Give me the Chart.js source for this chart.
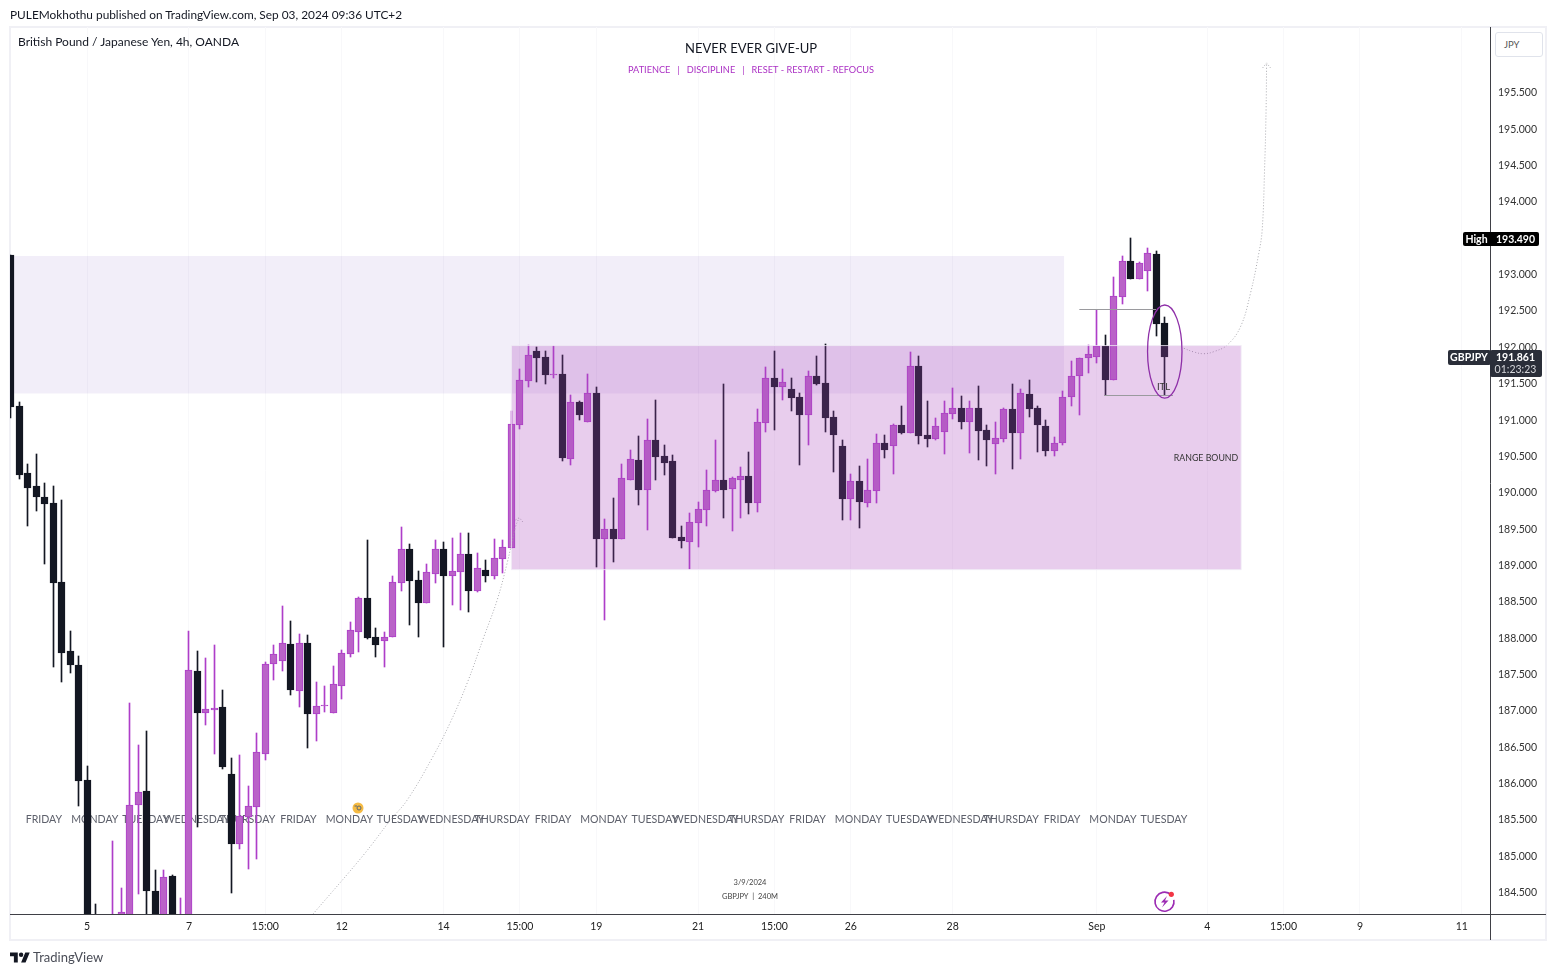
<!DOCTYPE html>
<html>
<head>
<meta charset="utf-8">
<title>GBPJPY 4h</title>
<script src="https://cdn.jsdelivr.net/npm/chart.js@4"></script>
<style>
  html, body { margin: 0; padding: 0; background: #fff; }
  body { width: 1556px; height: 975px; position: relative; overflow: hidden; font-family: Lato, sans-serif; color: #131722; }
  canvas { position: absolute; left: 0; top: 0; }
  .frame { position: absolute; left: 9px; top: 26px; width: 1534px; height: 911px; border: 2px solid #f0f0f5; }
  .txt { position: absolute; white-space: nowrap; }
  .jpy { position: absolute; left: 1495px; top: 32px; width: 46px; height: 23px; border: 1px solid #e0e3eb; border-radius: 3px; font-size: 9.5px; line-height: 23px; color: #555; text-indent: 8px; background: #fff; }
</style>
</head>
<body>
<div class="frame"></div>
<canvas id="chart" width="1556" height="975"></canvas>
<div class="txt" style="left:10px;top:7px;font-size:11.85px">PULEMokhothu published on TradingView.com, Sep 03, 2024 09:36 UTC+2</div>
<div class="txt" style="left:18px;top:34px;font-size:12px">British Pound / Japanese Yen, 4h, OANDA</div>
<div class="jpy">JPY</div>
<svg style="position:absolute;left:10px;top:950px" width="20" height="16" viewBox="0 0 36 28"><path fill="#131722" d="M14 22H7V11H0V4h14v18zM28 22h-8l7.5-18h8L28 22z"/><circle fill="#131722" cx="20" cy="8" r="4"/></svg>
<div class="txt" style="left:33px;top:949px;font-size:13px;line-height:17px;color:#4a4d57">TradingView</div>
<script>
// candles, oldest first (values below the chart's bottom edge are guesses)
const opens = [193.257,191.180,190.259,190.080,189.929,189.847,188.760,187.811,187.618,186.036,183.970,183.800,183.750,183.950,184.100,185.696,185.885,184.509,184.000,184.716,184.000,184.100,187.535,186.962,187.003,187.040,186.119,185.160,185.531,185.669,
  186.398,187.628,187.677,187.907,187.264,187.916,186.948,187.061,186.962,187.333,187.773,188.076,188.540,188.003,187.952,188.007,188.750,189.214,188.787,188.475,188.874,189.214,188.846,188.901,189.145,188.640,188.925,188.846,189.080,189.231,
  190.923,191.528,191.937,191.854,191.614,191.621,190.456,191.235,190.965,191.359,189.351,189.489,189.351,190.163,190.438,190.025,190.713,190.493,190.424,189.379,189.314,189.575,189.754,190.015,190.163,190.043,190.167,190.218,189.850,190.951,
  191.566,191.446,191.414,191.304,191.061,191.593,191.497,191.029,190.630,189.905,190.149,189.850,190.015,190.672,190.634,190.919,190.813,191.731,190.782,190.731,190.827,191.075,191.153,190.965,191.153,190.850,190.662,190.731,191.139,190.813,
  191.346,191.153,190.905,190.566,190.676,191.300,191.589,191.837,191.859,192.006,191.542,192.684,193.175,192.932,193.042,193.271,192.322];
const highs = [193.257,191.235,190.383,190.520,190.121,190.080,189.888,188.086,187.742,186.229,184.331,184.000,185.197,184.550,187.096,186.518,186.710,184.798,184.798,184.730,184.413,188.086,187.811,187.714,187.893,187.274,186.339,186.380,185.954,186.683,
  187.655,187.893,188.429,188.223,188.044,188.031,187.384,187.329,187.604,187.824,188.209,188.553,189.337,188.127,188.072,188.842,189.516,189.282,188.911,189.007,189.337,189.310,189.365,189.434,189.434,189.159,189.062,189.351,189.337,191.112,
  191.689,192.020,191.992,191.937,192.006,191.882,191.332,191.249,191.621,191.442,189.626,189.915,190.383,190.575,190.768,191.002,191.263,190.644,190.506,189.530,189.709,189.860,190.300,190.713,191.483,190.204,190.341,190.548,191.139,191.717,
  191.937,191.689,191.566,191.359,191.662,191.868,192.033,191.112,190.713,190.245,190.355,190.452,190.795,190.782,190.933,191.180,191.923,191.868,191.249,191.015,191.249,191.428,191.318,191.249,191.456,190.919,190.960,191.153,191.483,191.414,
  191.538,191.180,190.988,190.754,191.387,191.799,191.841,192.020,192.501,192.157,192.955,193.244,193.490,193.161,193.354,193.313,192.405];
const lows = [191.015,190.180,189.534,189.741,189.012,187.595,187.389,187.512,185.683,183.800,183.700,183.600,183.600,183.800,183.900,184.472,184.040,183.900,183.850,183.900,183.900,184.000,185.394,186.793,186.398,186.192,184.486,185.091,184.816,184.954,
  186.311,187.412,187.535,187.205,187.040,186.476,186.573,186.971,186.962,187.150,187.732,187.797,187.976,187.728,187.590,188.007,188.636,188.168,188.003,188.475,188.746,187.866,188.443,188.374,188.347,188.622,188.760,188.801,188.883,189.231,
  190.864,191.442,191.511,191.483,191.566,190.424,190.369,190.988,190.965,188.966,188.237,189.035,189.351,190.163,189.819,189.475,190.163,190.231,189.365,189.227,188.938,189.241,189.530,189.998,189.640,189.461,189.640,189.695,189.722,190.823,
  190.850,191.263,191.112,190.369,190.644,191.469,190.823,190.273,189.612,189.612,189.502,189.791,189.846,190.465,190.245,190.795,190.813,190.658,190.617,190.713,190.520,191.002,190.864,190.534,190.438,190.355,190.245,190.685,190.314,190.452,
  191.029,190.548,190.493,190.493,190.644,191.180,191.057,191.634,191.772,191.332,191.542,192.583,192.927,192.932,192.762,192.143,191.332];
const closes = [191.167,190.236,190.057,189.933,189.837,188.750,187.788,187.623,186.027,183.973,183.800,183.750,183.950,184.220,185.692,185.867,184.513,184.000,184.702,184.000,184.150,187.549,186.962,187.008,187.027,186.219,185.160,185.541,185.678,186.417,
  187.628,187.765,187.916,187.274,187.916,186.948,187.050,187.068,187.352,187.779,188.095,188.535,187.989,187.893,187.999,188.755,189.209,188.773,188.471,188.893,189.209,188.842,188.907,189.141,188.636,188.948,188.842,189.086,189.237,190.929,
  191.534,191.878,191.841,191.607,191.621,190.465,191.231,191.057,191.355,189.351,189.484,189.351,190.186,190.447,190.025,190.709,190.479,190.396,189.365,189.324,189.581,189.760,190.021,190.159,190.025,190.186,190.214,189.846,190.956,191.561,
  191.442,191.507,191.291,191.057,191.589,191.483,191.015,190.782,189.901,190.145,189.860,190.021,190.667,190.575,190.915,190.809,191.727,190.768,190.727,190.901,191.080,191.149,190.960,191.149,190.837,190.713,190.736,191.135,190.809,191.355,
  191.139,190.919,190.561,190.667,191.300,191.589,191.837,191.892,192.002,191.542,192.689,193.171,192.927,193.143,193.281,192.308,191.861];

// time axis: positions are bar numbers
const timeTicks = [9,21,30,39,51,60,69,81,90,99,111,128,141,150,159,171];
const timeLabels = ["5","7","15:00","12","14","15:00","19","21","15:00","26","28","Sep","4","15:00","9","11"];
const priceTicks = [184.5,185,185.5,186,186.5,187,187.5,188,188.5,189,189.5,190,190.5,191,191.5,192,192.5,193,193.5,194,194.5,195,195.5];

const dayPositions = [3.9,9.9,15.9,21.9,27.9,33.9,39.9,45.9,51.9,57.9,63.9,69.9,75.9,81.9,87.9,93.9,99.9,105.9,111.9,117.9,123.9,129.9,135.9];
const dayLabels = ["FRIDAY","MONDAY","TUESDAY","WEDNESDAY","THURSDAY","FRIDAY","MONDAY","TUESDAY","WEDNESDAY","THURSDAY","FRIDAY","MONDAY","TUESDAY","WEDNESDAY","THURSDAY","FRIDAY","MONDAY","TUESDAY","WEDNESDAY","THURSDAY","FRIDAY","MONDAY","TUESDAY"];
const dayPrice = 185.487;

// drawn projections
const pathUpX = [35.6,41.57,44.75,46.72,49.66,51.82,53.79,55.75,57.32,58.5,59.48,59.87];
const pathUpY = [184.19,185.005,185.486,185.761,186.339,186.834,187.371,188.004,188.512,189.021,189.517,189.634];
const arrowUpX = [59.48,59.94,60.46];
const arrowUpY = [189.613,189.645,189.568];
const pathNextX = [138.24,139.42,140.6,141.78,143.36,144.93,146.1,147.08,147.48,147.76,147.94,148];
const pathNextY = [191.975,191.924,191.9,191.928,192.02,192.272,192.731,193.281,193.602,194.427,195.252,195.885];
const arrowNextX = [147.53,148,148.47];
const arrowNextY = [195.83,195.9,195.83];

// zones and levels: [from bar, to bar, price, price]
const supplyZone = [0,124.13,193.244,191.353];
const rangeZone = [59,145,192.012,188.93];
const levelHigh = [125.93,134.97,192.51];
const levelLow = [128.84,136.97,191.33];
const circleMark = [136,2.03,192.57,191.29];

const highPrice = 193.49;
const lastPrice = 191.861;

const fontName = "Lato, sans-serif";
const bull = "#ba63c8", bullEdge = "#ae3ec9", bear = "#131722";

const wicks = highs.map((h, i) => ({ x: i, y: [lows[i], h] }));
const bodies = opens.map((o, i) => ({ x: i, y: [o, closes[i]] }));
const barColors = (fill) => opens.map((o, i) => closes[i] >= o ? fill : bear);
const zip = (xs, ys) => xs.map((x, i) => ({ x, y: ys[i] }));

const dotted = (xs, ys, tension) => ({
  type: "line", data: zip(xs, ys), order: 1, tension,
  borderColor: "#a9a9ae", borderWidth: 1, borderDash: [1, 2], pointRadius: 0, fill: false
});

// the candles sit on whole pixels in the original
const snapBars = {
  id: "snapBars",
  afterDatasetsUpdate(chart) {
    chart.data.datasets.forEach((d, n) => {
      const meta = chart.getDatasetMeta(n);
      if (meta.type !== "bar") return;
      meta.data.forEach((el) => {
        el.x = Math.floor(el.x) + 0.5;
        el.y = Math.round(el.y);
        el.base = Math.round(el.base);
        if (el.y === el.base) el.base = el.y + 1;
      });
    });
  }
};

function label(ctx, text, x, y, size, color, align, weight) {
  ctx.font = (weight || "") + " " + size + "px " + fontName;
  ctx.fillStyle = color;
  ctx.textAlign = align || "center";
  ctx.textBaseline = "middle";
  ctx.fillText(text, x, y);
}

function priceBox(ctx, left, right, top, bottom, color) {
  ctx.fillStyle = color;
  ctx.beginPath();
  ctx.roundRect(left, top, right - left, bottom - top, 2);
  ctx.fill();
}

const drawings = {
  id: "drawings",
  beforeDatasetsDraw(chart) {
    const { ctx, chartArea: a, scales: { x, y } } = chart;
    ctx.save();
    ctx.beginPath();
    ctx.rect(a.left, a.top, a.width, a.height);
    ctx.clip();
    ctx.fillStyle = "rgba(126,87,194,0.1)";
    ctx.fillRect(x.getPixelForValue(supplyZone[0]), y.getPixelForValue(supplyZone[2]),
      x.getPixelForValue(supplyZone[1]) - x.getPixelForValue(supplyZone[0]),
      y.getPixelForValue(supplyZone[3]) - y.getPixelForValue(supplyZone[2]));
    dayLabels.forEach((d, i) => label(ctx, d, x.getPixelForValue(dayPositions[i]), y.getPixelForValue(dayPrice), 10.6, "#5d606b"));
    ctx.restore();
  },
  afterDatasetsDraw(chart) {
    const { ctx, chartArea: a, scales: { x, y } } = chart;
    ctx.save();
    // range box goes over the candles, that is what tints them
    const rx = x.getPixelForValue(rangeZone[0]), ry = y.getPixelForValue(rangeZone[2]);
    const rw = x.getPixelForValue(rangeZone[1]) - rx, rh = y.getPixelForValue(rangeZone[3]) - ry;
    ctx.fillStyle = "rgba(171,71,188,0.27)";
    ctx.fillRect(rx, ry, rw, rh);
    ctx.strokeStyle = "rgba(240,236,246,0.8)";
    ctx.lineWidth = 1;
    ctx.strokeRect(rx, ry, rw, rh);

    ctx.strokeStyle = "#9a9a9e";
    [levelHigh, levelLow].forEach((l) => {
      const py = Math.round(y.getPixelForValue(l[2])) + 0.5;
      ctx.beginPath();
      ctx.moveTo(x.getPixelForValue(l[0]), py);
      ctx.lineTo(x.getPixelForValue(l[1]), py);
      ctx.stroke();
    });

    const cy1 = y.getPixelForValue(circleMark[2]), cy2 = y.getPixelForValue(circleMark[3]);
    ctx.strokeStyle = "#8e2fa8";
    ctx.lineWidth = 1.3;
    ctx.beginPath();
    ctx.ellipse(x.getPixelForValue(circleMark[0]), (cy1 + cy2) / 2,
      x.getPixelForValue(circleMark[1]) - x.getPixelForValue(0), (cy2 - cy1) / 2, 0, 0, Math.PI * 2);
    ctx.stroke();

    label(ctx, "NEVER EVER GIVE-UP", x.getPixelForValue(87.24), y.getPixelForValue(196.095), 13, "#131722");
    label(ctx, "PATIENCE   |   DISCIPLINE   |   RESET - RESTART - REFOCUS", x.getPixelForValue(87.24), y.getPixelForValue(195.802), 9.2, "#ab30c4");
    label(ctx, "RANGE BOUND", x.getPixelForValue(140.86), y.getPixelForValue(190.459), 8.8, "#333");
    label(ctx, "ITL", x.getPixelForValue(135.85), y.getPixelForValue(191.446), 9.5, "#333");
    label(ctx, "3/9/2024", x.getPixelForValue(87.12), y.getPixelForValue(184.62), 7.5, "#444");
    label(ctx, "GBPJPY  |  240M", x.getPixelForValue(87.12), y.getPixelForValue(184.428), 7.5, "#444");

    // small icons
    ctx.fillStyle = "#f6bb43";
    ctx.beginPath(); ctx.arc(358, 808, 5.5, 0, Math.PI * 2); ctx.fill();
    ctx.strokeStyle = "#5b6670"; ctx.lineWidth = 1;
    ctx.beginPath(); ctx.arc(359, 808, 2, 0, Math.PI * 2); ctx.stroke();
    ctx.beginPath(); ctx.moveTo(354.5, 806); ctx.lineTo(357, 806); ctx.stroke();

    ctx.strokeStyle = "#9c2bb3"; ctx.lineWidth = 1.6;
    ctx.beginPath(); ctx.arc(1164.5, 901.7, 9.5, -0.2, Math.PI * 1.75); ctx.stroke();
    ctx.fillStyle = "#9c2bb3";
    ctx.beginPath();
    ctx.moveTo(1167, 896); ctx.lineTo(1161, 902.5); ctx.lineTo(1164.5, 902.5);
    ctx.lineTo(1162, 907.5); ctx.lineTo(1168.5, 900.5); ctx.lineTo(1165, 900.5);
    ctx.closePath(); ctx.fill();
    ctx.fillStyle = "#f23645";
    ctx.beginPath(); ctx.arc(1171.3, 894.3, 2.6, 0, Math.PI * 2); ctx.fill();

    // axis lines run past the plot to the frame
    ctx.strokeStyle = "#3f4046"; ctx.lineWidth = 1;
    ctx.beginPath();
    ctx.moveTo(a.left, a.bottom + 0.5); ctx.lineTo(1546, a.bottom + 0.5);
    ctx.moveTo(a.right + 0.5, a.top); ctx.lineTo(a.right + 0.5, 940);
    ctx.stroke();

    // last price and high tags
    const hy = Math.round(y.getPixelForValue(highPrice)) + 1;
    priceBox(ctx, 1463, 1539, hy - 7, hy + 7, "#000");
    label(ctx, "High", 1476.5, hy + 1, 10.5, "#fff", "center", "bold");
    label(ctx, "193.490", 1515.5, hy + 1, 10.5, "#fff", "center", "bold");
    const ly = Math.round(y.getPixelForValue(lastPrice));
    priceBox(ctx, 1448, 1491, ly - 7, ly + 8, "#2a2e39");
    priceBox(ctx, 1490, 1542, ly - 7, ly + 20, "#2a2e39");
    label(ctx, "GBPJPY", 1469, ly + 1, 10.5, "#fff", "center", "bold");
    label(ctx, "191.861", 1515.5, ly + 1, 10.5, "#fff", "center", "bold");
    label(ctx, "01:23:23", 1515.5, ly + 13, 10.5, "#d5d6da");
    ctx.restore();
  }
};

new Chart(document.getElementById("chart").getContext("2d"), {
  data: {
    datasets: [
      { type: "bar", data: wicks, barThickness: 1, grouped: false, order: 3, backgroundColor: barColors(bullEdge) },
      { type: "bar", data: bodies, barThickness: 7, grouped: false, order: 2, backgroundColor: barColors(bull),
        borderColor: barColors(bullEdge), borderWidth: 1, borderSkipped: false },
      dotted(pathUpX, pathUpY, 0.4),
      dotted(arrowUpX, arrowUpY, 0),
      dotted(pathNextX, pathNextY, 0.4),
      dotted(arrowNextX, arrowNextY, 0)
    ]
  },
  options: {
    responsive: false,
    animation: false,
    devicePixelRatio: 1,
    layout: { padding: { left: 10, top: 27, right: 10, bottom: 35 } },
    plugins: { legend: { display: false }, tooltip: { enabled: false } },
    scales: {
      x: {
        type: "linear", min: -0.094, max: 174.33, offset: false,
        afterFit: (s) => { s.height = 26; },
        afterBuildTicks: (s) => { s.ticks = timeTicks.map((value) => ({ value })); },
        border: { display: false },
        grid: { color: "#f8f8fa", drawTicks: false, offset: false },
        ticks: {
          autoSkip: false, maxRotation: 0, padding: 6, color: "#222",
          font: { family: fontName, size: 10.5 },
          callback: (v) => timeLabels[timeTicks.indexOf(v)]
        }
      },
      y: {
        position: "right", min: 184.193, max: 196.394,
        afterFit: (s) => { s.width = 56; },
        afterBuildTicks: (s) => { s.ticks = priceTicks.map((value) => ({ value })); },
        border: { display: false },
        grid: { display: false, drawTicks: false },
        ticks: {
          padding: 8, color: "#333", labelOffset: 1,
          font: { family: fontName, size: 10.5 },
          callback: (v) => v.toFixed(3)
        }
      }
    }
  },
  plugins: [snapBars, drawings]
});
</script>
</body>
</html>
